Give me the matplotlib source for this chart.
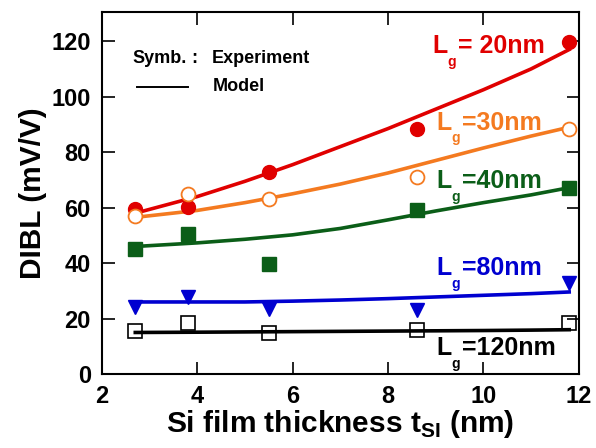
import numpy as np
import matplotlib.pyplot as plt

plt.rcParams['font.family'] = ['Liberation Sans', 'DejaVu Sans']
plt.rcParams['font.weight'] = 'bold'
plt.rcParams['axes.labelweight'] = 'bold'
plt.rcParams['mathtext.fontset'] = 'custom'
plt.rcParams['mathtext.rm'] = 'Liberation Sans:bold'
plt.rcParams['mathtext.bf'] = 'Liberation Sans:bold'

# --- mesures ---
t_si = [2.7, 3.8, 5.5, 8.6, 11.8]

exp_20 = [59.5, 60.2, 72.8, 88.4, 119.6]
exp_30 = [57.0, 65.0, 63.0, 71.0, 88.2]
exp_40 = [45.0, 50.4, 39.6, 59.0, 67.0]
exp_80 = [24.3, 27.8, 23.4, 23.0, 33.0]
exp_120 = [15.5, 18.5, 14.8, 15.9, 18.4]

# --- modèle ---
t_model = [2.7, 4, 5, 6, 7, 8, 9, 10, 11, 11.8]
model_20 = [58.0, 64.0, 69.5, 75.5, 82.0, 88.5, 95.5, 102.5, 110.0, 117.0]
model_30 = [56.5, 59.0, 61.8, 65.0, 68.5, 72.5, 77.0, 81.5, 85.8, 89.0]
model_40 = [46.0, 47.3, 48.6, 50.2, 52.5, 55.6, 58.8, 61.8, 64.6, 67.2]
model_80 = [26.0, 26.0, 26.0, 26.3, 26.7, 27.2, 27.8, 28.4, 29.0, 29.6]
model_120 = [15.0, 15.1, 15.2, 15.3, 15.4, 15.5, 15.6, 15.7, 15.85, 16.0]

labels = ['= 20nm', '=30nm', '=40nm', '=80nm', '=120nm']
label_pos = [(8.94, 115.7), (9.02, 88.0), (9.02, 67.0), (9.02, 35.7), (9.02, 6.8)]
colors = ['#e00000', '#f47a20', '#0b5e18', '#0000d0', 'black']

fig = plt.figure(figsize=(5.96, 4.48), dpi=100)
ax = fig.add_axes([0.171, 0.165, 0.800, 0.808])

# modèles
for m, c in zip([model_20, model_30, model_40, model_80, model_120], colors):
    ax.plot(t_model, m, '-', color=c, lw=2.6, zorder=2)

# expériences
ax.plot(t_si, exp_20, 'o', color=colors[0], ms=10, zorder=3)
ax.plot(t_si, exp_30, 'o', mfc='white', mec=colors[1], mew=1.3, ms=10, zorder=3)
ax.plot(t_si, exp_40, 's', color=colors[2], ms=10, zorder=3)
ax.plot(t_si, exp_80, 'v', color=colors[3], ms=10, zorder=3)
ax.plot(t_si, exp_120, 's', mfc='none', mec='black', mew=1.2, ms=10, zorder=3)

# étiquettes L_g
for lab, (x, y), c in zip(labels, label_pos, colors):
    ax.annotate('L', (x, y), color=c, fontsize=18, fontweight='bold', va='baseline', ha='left')
    ax.annotate('g', (x, y), xytext=(10.5, -9), textcoords='offset points',
                color=c, fontsize=10, fontweight='bold', va='baseline', ha='left')
    ax.annotate(lab, (x, y), xytext=(18, 0), textcoords='offset points',
                color=c, fontsize=18, fontweight='bold', va='baseline', ha='left')

# légende manuelle
ax.text(2.63, 112, 'Symb.', fontsize=13, fontweight='bold', va='baseline')
ax.text(3.88, 112, ':', fontsize=13, fontweight='bold', va='baseline')
ax.text(4.31, 112, 'Experiment', fontsize=13, fontweight='bold', va='baseline')
ax.plot([2.73, 3.8], [103.4, 103.4], color='black', lw=1.4)
ax.text(4.33, 102, 'Model', fontsize=13, fontweight='bold', va='baseline')

ax.set_xlim(2, 12)
ax.set_ylim(0, 130.5)
ax.set_xticks([2, 4, 6, 8, 10, 12])
ax.set_yticks([0, 20, 40, 60, 80, 100, 120])
ax.tick_params(direction='in', length=9, width=1.2, top=True, right=True,
               labelsize=17, pad=8)
for lbl in ax.get_xticklabels() + ax.get_yticklabels():
    lbl.set_fontweight('bold')
for s in ax.spines.values():
    s.set_linewidth(1.5)

ax.set_xlabel(r'Si film thickness t$_{\mathbf{SI}}$ (nm)', fontsize=21.5, fontweight='bold', labelpad=0)
ax.set_ylabel('DIBL (mV/V)', fontsize=21.5, fontweight='bold', labelpad=3)

fig.savefig('out.png', dpi=100)
